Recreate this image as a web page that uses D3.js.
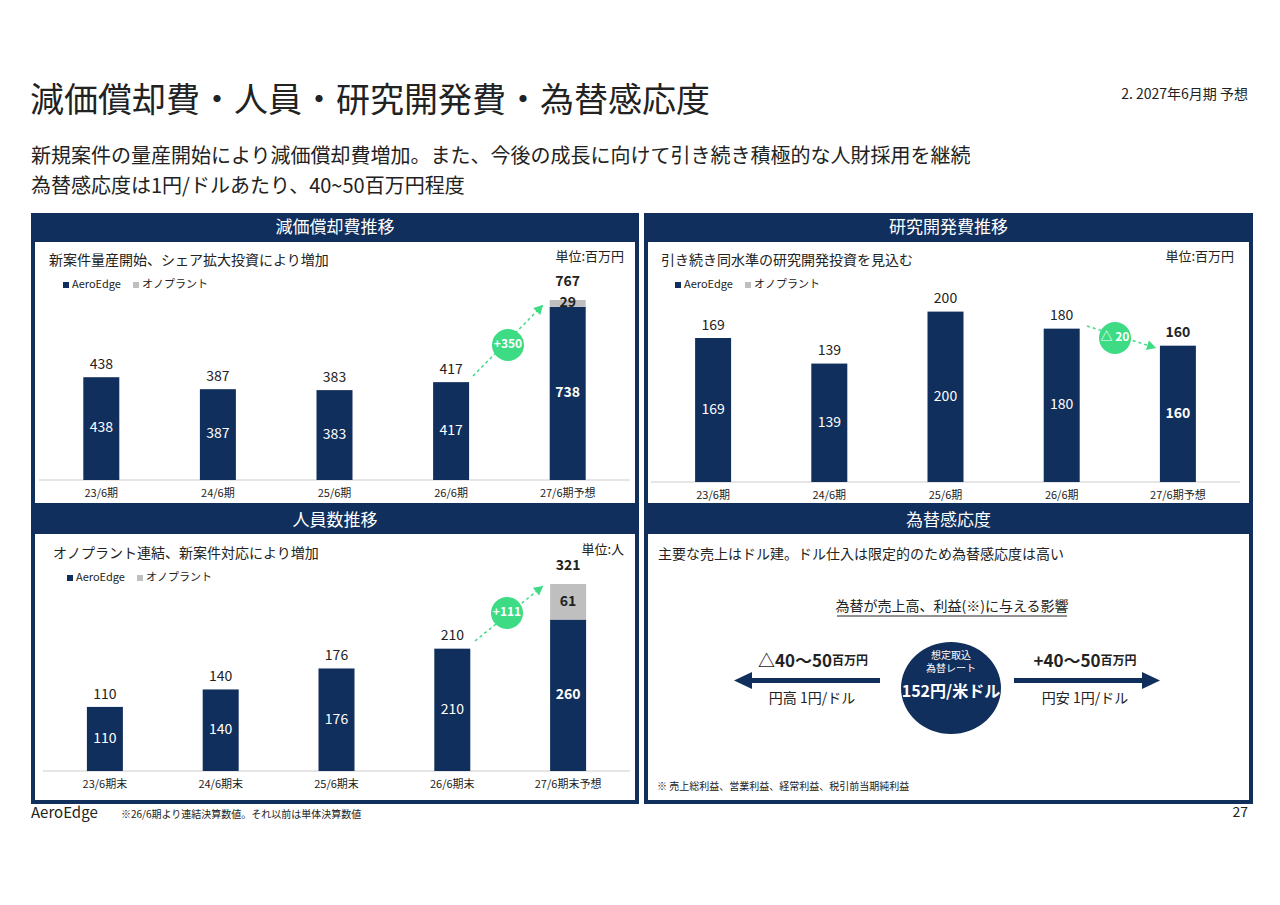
<!DOCTYPE html>
<html><head><meta charset="utf-8">
<script src="https://cdn.jsdelivr.net/npm/d3@7"></script>
<style>body{margin:0;background:#fff}svg{font-family:"Noto Sans CJK JP","Noto Sans",sans-serif}</style>
</head><body>
<svg id="c" width="1280" height="905"></svg>
<script>
const NAVY = "#112f5c", GREY = "#bfbfbf", GREEN = "#3ddc84", TXT = "#222"

// data
const depCats = ["23/6期", "24/6期", "25/6期", "26/6期", "27/6期予想"]
const depAero = [438, 387, 383, 417, 738]
const depOno = [0, 0, 0, 0, 29]
const rdCats = ["23/6期", "24/6期", "25/6期", "26/6期", "27/6期予想"]
const rdAero = [169, 139, 200, 180, 160]
const rdOno = [0, 0, 0, 0, 0]
const hcCats = ["23/6期末", "24/6期末", "25/6期末", "26/6期末", "27/6期末予想"]
const hcAero = [110, 140, 176, 210, 260]
const hcOno = [0, 0, 0, 0, 61]

let svg = d3.select("#c")

function txt(x, y, s, size, opt = {}) {
    return svg.append("text").attr("x", x).attr("y", y).text(s)
        .attr("font-size", size).attr("fill", opt.fill || TXT)
        .attr("font-weight", opt.bold ? 700 : 400)
        .attr("text-anchor", opt.anchor || "start")
        .attr("dominant-baseline", "middle")
}

// header
txt(30, 103, "減価償却費・人員・研究開発費・為替感応度", 34)
txt(1248, 95, "2. 2027年6月期 予想", 14, {anchor: "end"})
txt(31, 158, "新規案件の量産開始により減価償却費増加。また、今後の成長に向けて引き続き積極的な人財採用を継続", 20)
txt(31, 188, "為替感応度は1円/ドルあたり、40~50百万円程度", 20)

function panel(x, y, w, h, title, hh) {
    svg.append("rect").attr("x", x).attr("y", y).attr("width", w).attr("height", h).attr("fill", NAVY)
    svg.append("rect").attr("x", x + 4).attr("y", y + hh).attr("width", w - 8).attr("height", h - hh - 4).attr("fill", "#fff")
    txt(x + w / 2, y + hh / 2 + 1, title, 17, {fill: "#fff", anchor: "middle"})
}
panel(31, 213, 608, 294, "減価償却費推移", 29)
panel(644, 213, 609, 294, "研究開発費推移", 29)
panel(31, 507, 608, 297, "人員数推移", 27)
panel(644, 507, 609, 297, "為替感応度", 27)

function barChart(o) {
    let x = d3.scaleBand().domain(o.cats).range([o.x0, o.x1])
    let y = d3.scaleLinear().domain([0, o.max]).range([o.base, o.top])
    let g = svg.append("g")
    g.append("line").attr("x1", o.x0 - 4).attr("x2", o.x1 + 4).attr("y1", o.base).attr("y2", o.base).attr("stroke", "#ccc")
    let bw = 36
    o.cats.forEach((c, i) => {
        let cx = x(c) + x.bandwidth() / 2
        let a = o.aero[i], b = o.ono[i], last = i == o.cats.length - 1
        g.append("rect").attr("x", cx - bw / 2).attr("width", bw).attr("y", y(a)).attr("height", o.base - y(a)).attr("fill", NAVY)
        if (b > 0) {
            g.append("rect").attr("x", cx - bw / 2).attr("width", bw).attr("y", y(a + b)).attr("height", y(a) - y(a + b)).attr("fill", GREY)
            txt(cx, (y(a) + y(a + b)) / 2, b, 14, {anchor: "middle", bold: true})
        }
        txt(cx, (y(a) + o.base) / 2, a, 14, {fill: "#fff", anchor: "middle", bold: last})
        txt(cx, y(a + b) - (b > 0 ? 18 : 12), a + b, 14, {anchor: "middle", bold: last})
        txt(cx, o.base + 14, c, 11, {anchor: "middle"})
    })
    txt(o.x0 + 6, o.subY, o.sub, 14)
    txt(o.x1 - 2, o.subY - 4, o.unit, 13, {anchor: "end"})
    g.append("rect").attr("x", o.x0 + 20).attr("y", o.subY + 21).attr("width", 6).attr("height", 6).attr("fill", NAVY)
    txt(o.x0 + 29, o.subY + 24, "AeroEdge", 11)
    g.append("rect").attr("x", o.x0 + 90).attr("y", o.subY + 21).attr("width", 6).attr("height", 6).attr("fill", GREY)
    txt(o.x0 + 99, o.subY + 24, "オノプラント", 11)
    // growth arrow
    let a = o.arrow
    g.append("line").attr("x1", a[0]).attr("y1", a[1]).attr("x2", a[2]).attr("y2", a[3])
        .attr("stroke", GREEN).attr("stroke-width", 1.5).attr("stroke-dasharray", "3,3")
    let ang = Math.atan2(a[3] - a[1], a[2] - a[0]) * 180 / Math.PI
    g.append("path").attr("d", "M0,0 L-9,-5 L-9,5 Z").attr("fill", GREEN)
        .attr("transform", `translate(${a[2]},${a[3]}) rotate(${ang})`)
    g.append("circle").attr("cx", a[4]).attr("cy", a[5]).attr("r", 16).attr("fill", GREEN)
    txt(a[4], a[5], o.delta, 12, {fill: "#fff", anchor: "middle", bold: true})
}

barChart({cats: depCats, aero: depAero, ono: depOno, x0: 43, x1: 626, base: 480, top: 300, max: 767,
    sub: "新案件量産開始、シェア拡大投資により増加", unit: "単位:百万円", subY: 261,
    arrow: [473, 376, 543, 305, 508, 345], delta: "+350"})
barChart({cats: rdCats, aero: rdAero, ono: rdOno, x0: 655, x1: 1236, base: 482, top: 311.6, max: 200,
    sub: "引き続き同水準の研究開発投資を見込む", unit: "単位:百万円", subY: 261,
    arrow: [1087, 326, 1156, 348, 1115, 338], delta: "△ 20"})
barChart({cats: hcCats, aero: hcAero, ono: hcOno, x0: 47, x1: 626, base: 771, top: 584, max: 321,
    sub: "オノプラント連結、新案件対応により増加", unit: "単位:人", subY: 554,
    arrow: [475, 641, 543, 586, 507, 613], delta: "+111"})

// FX panel
txt(658, 555, "主要な売上はドル建。ドル仕入は限定的のため為替感応度は高い", 14)
txt(952, 607, "為替が売上高、利益(※)に与える影響", 14, {anchor: "middle"})
svg.append("line").attr("x1", 837).attr("x2", 1067).attr("y1", 616).attr("y2", 616).attr("stroke", TXT)
svg.append("ellipse").attr("cx", 951).attr("cy", 688).attr("rx", 50).attr("ry", 46).attr("fill", NAVY)
txt(951, 656, "想定取込", 10, {fill: "#fff", anchor: "middle"})
txt(951, 669, "為替レート", 10, {fill: "#fff", anchor: "middle"})
txt(951, 693, "152円/米ドル", 16, {fill: "#fff", anchor: "middle", bold: true})
svg.append("rect").attr("x", 744).attr("y", 678).attr("width", 136).attr("height", 5).attr("fill", NAVY)
svg.append("path").attr("d", "M734,680.5 L752,672 L752,689 Z").attr("fill", NAVY)
svg.append("rect").attr("x", 1014).attr("y", 678).attr("width", 136).attr("height", 5).attr("fill", NAVY)
svg.append("path").attr("d", "M1160,680.5 L1142,672 L1142,689 Z").attr("fill", NAVY)
let l = txt(813, 662, "△40～50", 17, {anchor: "middle", bold: true})
l.append("tspan").attr("font-size", 12).text("百万円")
let r = txt(1085, 662, "+40～50", 17, {anchor: "middle", bold: true})
r.append("tspan").attr("font-size", 12).text("百万円")
txt(812, 699, "円高 1円/ドル", 14, {anchor: "middle"})
txt(1085, 699, "円安 1円/ドル", 14, {anchor: "middle"})
txt(657, 787, "※  売上総利益、営業利益、経常利益、税引前当期純利益", 10)

// footer
txt(31, 814, "AeroEdge", 15)
txt(121, 815, "※26/6期より連結決算数値。それ以前は単体決算数値", 10)
txt(1248, 813, "27", 14, {anchor: "end"})
</script>
</body></html>
